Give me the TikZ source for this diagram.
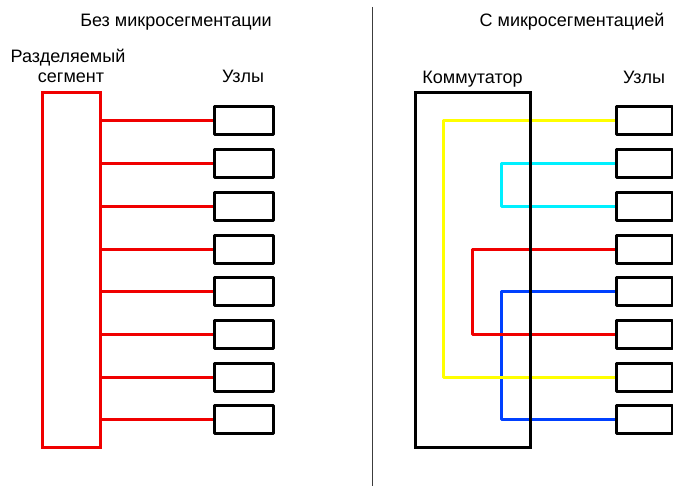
\documentclass[tikz,border=0pt]{standalone}
\usepackage{fontspec}
\setmainfont{Liberation Sans}
\pgfdeclarelayer{bg}
\pgfsetlayers{bg,main}
\definecolor{wred}{RGB}{240,0,0}
\definecolor{wyellow}{RGB}{255,255,0}
\definecolor{wcyan}{RGB}{0,240,255}
\definecolor{wblue}{RGB}{0,64,255}
\definecolor{divgray}{RGB}{60,60,60}
\tikzset{
  lbl/.style={anchor=base, inner sep=0pt, font=\fontsize{18}{20}\selectfont},
  hostbox/.style={draw=black, line width=3pt, minimum height=28pt, inner sep=0pt, fill=white, line join=round},
  wire/.style={line width=3pt, line join=round},
}
\begin{document}
\begin{tikzpicture}[x=1pt,y=-1pt]
\useasboundingbox (0,0) rectangle (673,486);
% divider
\draw[divgray, line width=1pt] (372,7) coordinate (d1) -- (372,486) coordinate (d2);
% titles
\node[lbl] (t1) at (176,27) {Без микросегментации};
\node[lbl] (t2) at (572,27) {С микросегментацией};
\node[lbl] (seglbl1) at (68,63) {Разделяемый};
\node[lbl] (seglbl2) at (71,83) {сегмент};
\node[lbl] (hostlblL) at (243,83) {Узлы};
\node[lbl] (swlbl) at (472.5,84) {Коммутатор};
\node[lbl] (hostlblR) at (644,84) {Узлы};
% left side
\node[draw=wred, line width=3pt, minimum width=58pt, minimum height=355pt, inner sep=0pt] (seg) at (71,270.5) {};
\foreach \i/\y in {1/121,2/163.7,3/206.4,4/249.1,5/291.9,6/334.6,7/377.3,8/420} {
  \node[hostbox, minimum width=59pt] (L\i) at (243.5,\y) {};
  \begin{pgfonlayer}{bg}
  \draw[wred, wire] (seg.east |- L\i.west) -- (L\i.west);
  \end{pgfonlayer}
}
% right side
\node[draw=black, line width=3pt, minimum width=115pt, minimum height=355pt, inner sep=0pt] (sw) at (472.5,270.5) {};
\foreach \i/\y in {1/121,2/163.7,3/206.4,4/249.1,5/291.9,6/334.6,7/377.3,8/420} {
  \node[hostbox, minimum width=56pt] (R\i) at (644,\y) {};
}
\coordinate (xy) at (443,0);
\coordinate (xc) at (501,0);
\coordinate (xr) at (472,0);
\coordinate (xb) at (501,0);
\begin{pgfonlayer}{bg}
\draw[wblue, wire] (R5.west) -- (R5.west -| xb) -- (R8.west -| xb) -- (R8.west);
\draw[wred, wire] (R4.west) -- (R4.west -| xr) -- (R6.west -| xr) -- (R6.west);
\draw[wyellow, wire] (R1.west) -- (R1.west -| xy) -- (R7.west -| xy) -- (R7.west);
\draw[wcyan, wire] (R2.west) -- (R2.west -| xc) -- (R3.west -| xc) -- (R3.west);
\end{pgfonlayer}
\end{tikzpicture}
\end{document}
